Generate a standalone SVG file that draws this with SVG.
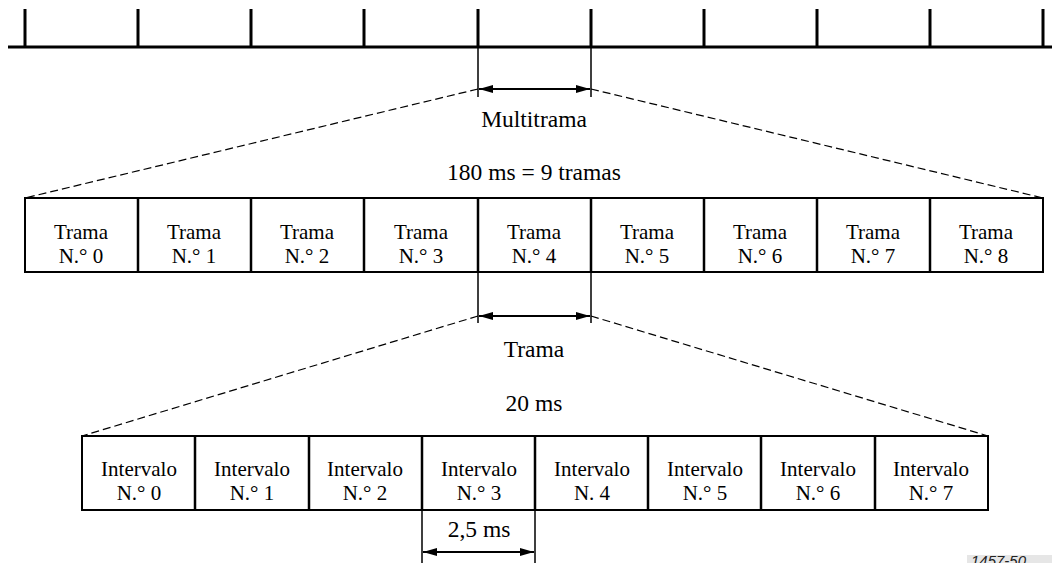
<svg xmlns="http://www.w3.org/2000/svg" width="1052" height="563" viewBox="0 0 1052 563">
<defs>
<marker id="ah" viewBox="0 0 14 8" refX="14" refY="4" markerWidth="14" markerHeight="8" markerUnits="userSpaceOnUse" orient="auto-start-reverse">
<path d="M0,0 L14,4 L0,8 Z" fill="#000"/>
</marker>
<style>
text.t{font-family:'Liberation Serif','DejaVu Serif',serif;font-size:21px;fill:#000;text-anchor:middle}
text.L{font-size:23.5px}
.thin{stroke:#000;stroke-width:1.5;fill:none}
.thick{stroke:#000;stroke-width:3;fill:none}
.dash{stroke:#000;stroke-width:1.2;fill:none;stroke-dasharray:8 4}
.arr{stroke:#000;stroke-width:2;fill:none;marker-start:url(#ah);marker-end:url(#ah)}
.box{stroke:#000;stroke-width:2;fill:#fff}
.div{stroke:#000;stroke-width:2.5}
</style>
</defs>
<g id="timeline">
<line class="thick" x1="8" y1="47" x2="1052" y2="47"/>
<path class="thick" d="M25,9V47 M138,9V47 M251,9V47 M364,9V47 M478,9V47 M591,9V47 M704,9V47 M817,9V47 M930,9V47 M1043,9V47"/>
</g>
<g id="connectors">
<path class="thin" d="M478,47V97 M591,47V97"/>
<line class="arr" x1="479" y1="89" x2="590" y2="89"/>
<line class="dash" x1="478" y1="89" x2="25" y2="198"/>
<line class="dash" x1="591" y1="89" x2="1043" y2="198"/>
<path class="thin" d="M478,272V323 M591,272V323"/>
<line class="arr" x1="479" y1="316" x2="590" y2="316"/>
<line class="dash" x1="478" y1="316" x2="82" y2="436"/>
<line class="dash" x1="591" y1="316" x2="988" y2="436"/>
<path class="thin" d="M422,510V563 M535,510V563"/>
<line class="arr" x1="423" y1="552" x2="534" y2="552"/>
</g>
<g font-family="Liberation Serif, DejaVu Serif, serif" font-size="21" text-anchor="middle">
<g id="labels">
<text class="t L" x="534" y="127">Multitrama</text>
<text class="t L" x="534" y="180">180 ms = 9 tramas</text>
<text class="t L" x="534" y="357">Trama</text>
<text class="t L" x="534" y="411">20 ms</text>
<text class="t L" x="479" y="537">2,5 ms</text>
</g>
<g id="frames">
<rect class="box" x="25" y="198" width="1018" height="74"/>
<path class="div" d="M138,198V272 M251,198V272 M364,198V272 M478,198V272 M591,198V272 M704,198V272 M817,198V272 M930,198V272"/>
<g id="trama0"><text class="t" x="81" y="239">Trama</text><text class="t" x="81" y="263">N.° 0</text></g>
<g id="trama1"><text class="t" x="194" y="239">Trama</text><text class="t" x="194" y="263">N.° 1</text></g>
<g id="trama2"><text class="t" x="307" y="239">Trama</text><text class="t" x="307" y="263">N.° 2</text></g>
<g id="trama3"><text class="t" x="421" y="239">Trama</text><text class="t" x="421" y="263">N.° 3</text></g>
<g id="trama4"><text class="t" x="534" y="239">Trama</text><text class="t" x="534" y="263">N.° 4</text></g>
<g id="trama5"><text class="t" x="647" y="239">Trama</text><text class="t" x="647" y="263">N.° 5</text></g>
<g id="trama6"><text class="t" x="760" y="239">Trama</text><text class="t" x="760" y="263">N.° 6</text></g>
<g id="trama7"><text class="t" x="873" y="239">Trama</text><text class="t" x="873" y="263">N.° 7</text></g>
<g id="trama8"><text class="t" x="986" y="239">Trama</text><text class="t" x="986" y="263">N.° 8</text></g>
</g>
<g id="slots">
<rect class="box" x="82" y="436" width="906" height="74"/>
<path class="div" d="M195,436V510 M309,436V510 M422,436V510 M535,436V510 M648,436V510 M761,436V510 M875,436V510"/>
<g id="int0"><text class="t" x="139" y="476">Intervalo</text><text class="t" x="139" y="500">N.° 0</text></g>
<g id="int1"><text class="t" x="252" y="476">Intervalo</text><text class="t" x="252" y="500">N.° 1</text></g>
<g id="int2"><text class="t" x="365" y="476">Intervalo</text><text class="t" x="365" y="500">N.° 2</text></g>
<g id="int3"><text class="t" x="479" y="476">Intervalo</text><text class="t" x="479" y="500">N.° 3</text></g>
<g id="int4"><text class="t" x="592" y="476">Intervalo</text><text class="t" x="592" y="500">N. 4</text></g>
<g id="int5"><text class="t" x="705" y="476">Intervalo</text><text class="t" x="705" y="500">N.° 5</text></g>
<g id="int6"><text class="t" x="818" y="476">Intervalo</text><text class="t" x="818" y="500">N.° 6</text></g>
<g id="int7"><text class="t" x="931" y="476">Intervalo</text><text class="t" x="931" y="500">N.° 7</text></g>
</g>
</g>
<g id="ref">
<rect x="967" y="555" width="85" height="10" fill="#e6e6e6"/>
<text x="971" y="566" font-family="Liberation Sans, Arial, sans-serif" font-style="italic" font-size="15" fill="#222">1457-50</text>
</g>
</svg>
